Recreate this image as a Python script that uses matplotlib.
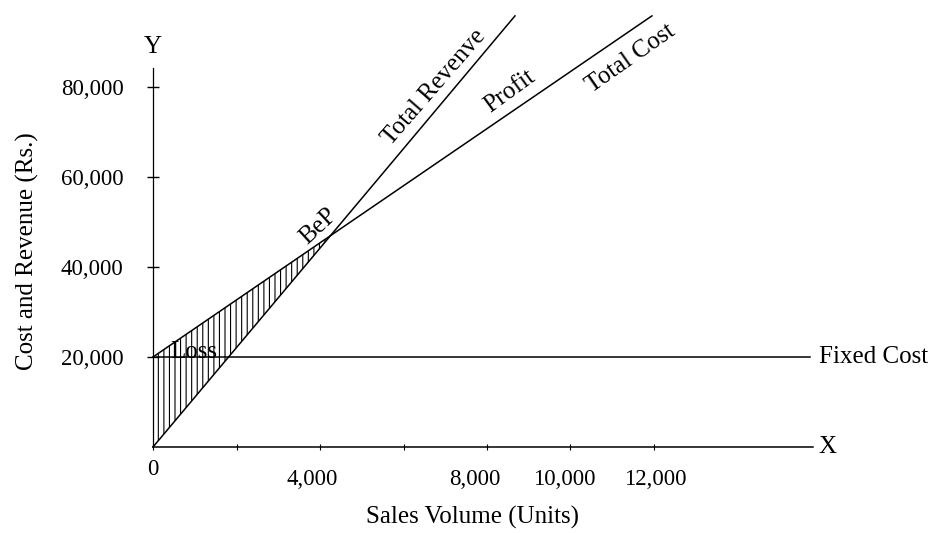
import matplotlib
matplotlib.use("Agg")
import matplotlib.pyplot as plt
from matplotlib.transforms import ScaledTranslation

plt.rcParams['font.family'] = ['Liberation Serif', 'DejaVu Serif']
plt.rcParams['hatch.linewidth'] = 0.8

# ---- data ----
revenue_units = [0, 8670]
revenue_values = [0, 95800]
cost_units = [0, 11950]
cost_values = [20000, 95800]
fixed_units = [0, 15740]
fixed_values = [20000, 20000]
bep_units = 4250
bep_value = 46950
fixed_cost = 20000

x_ticks = [0, 2000, 4000, 6000, 8000, 10000, 12000]
x_tick_labels = ['', '', '4,000', '', '8,000', '10,000', '12,000']
y_ticks = [20000, 40000, 60000, 80000]
y_tick_labels = ['20,000', '40,000', '60,000', '80,000']

fig = plt.figure(figsize=(9.31, 5.33), dpi=100)
ax = fig.add_axes([0, 0, 1, 1])
ax.set_xlim(-3665, 18635)
ax.set_ylim(-19111, 99333)
ax.patch.set_alpha(0)

lw = 1.1
ax.plot(revenue_units, revenue_values, color='black', lw=lw)
ax.plot(cost_units, cost_values, color='black', lw=lw)
ax.plot(fixed_units, fixed_values, color='black', lw=lw)

# loss area (hatched)
ax.fill_between([0, bep_units], [0, bep_value], [fixed_cost, bep_value],
                facecolor='none', edgecolor='black', hatch='|||', lw=0)

# axes
for s in ['top', 'right']:
    ax.spines[s].set_visible(False)
ax.spines['left'].set_position(('data', 0))
ax.spines['bottom'].set_position(('data', 0))
ax.spines['left'].set_bounds(0, 84200)
ax.spines['bottom'].set_bounds(0, 15800)
ax.spines['left'].set_linewidth(0.9)
ax.spines['bottom'].set_linewidth(1.1)

ax.set_yticks(y_ticks)
ax.set_yticklabels(y_tick_labels)
ax.set_xticks(x_ticks)
ax.set_xticklabels(x_tick_labels)
ax.tick_params(axis='y', direction='inout', length=8.6, width=1.0, pad=17, labelsize=16.5)
ax.tick_params(axis='x', direction='inout', length=4, width=0.8, pad=14, labelsize=16.5)

# small horizontal shifts of x tick labels as in the original drawing
label_shifts = [0, 0, -8, 0, -12, -6, 1]
for lab, dx in zip(ax.get_xticklabels(), label_shifts):
    lab.set_transform(lab.get_transform() + ScaledTranslation(dx / 100, 0, fig.dpi_scale_trans))

ax.text(0, -5100, '0', ha='center', va='center', fontsize=16.5)

ax.set_xlabel('Sales Volume (Units)', fontsize=18, va='center')
ax.xaxis.set_label_coords(472 / 931, 1 - 517 / 533)
ax.set_ylabel('Cost and Revenue (Rs.)', fontsize=18, va='center')
ax.yaxis.set_label_coords(27 / 931, 1 - 251 / 533)

# annotations
ax.text(15950, 0, 'X', ha='left', va='center', fontsize=18)
ax.text(0, 88900, 'Y', ha='center', va='center', fontsize=18)
ax.text(15960, fixed_cost, 'Fixed Cost', ha='left', va='center', fontsize=18)
ax.text(6731, 80000, 'Total Revenve', ha='center', va='center', rotation=49,
        rotation_mode='anchor', fontsize=18)
ax.text(11449, 86222, 'Total Cost', ha='center', va='center', rotation=35,
        rotation_mode='anchor', fontsize=18)
ax.text(8551, 79111, 'Profit', ha='center', va='center', rotation=36,
        rotation_mode='anchor', fontsize=18)
ax.text(3952, 49111, 'BeP', ha='center', va='center', rotation=43,
        rotation_mode='anchor', fontsize=18)
ax.text(982, 21111, 'Loss', ha='center', va='center', fontsize=18)

fig.savefig('out.png', dpi=100)
